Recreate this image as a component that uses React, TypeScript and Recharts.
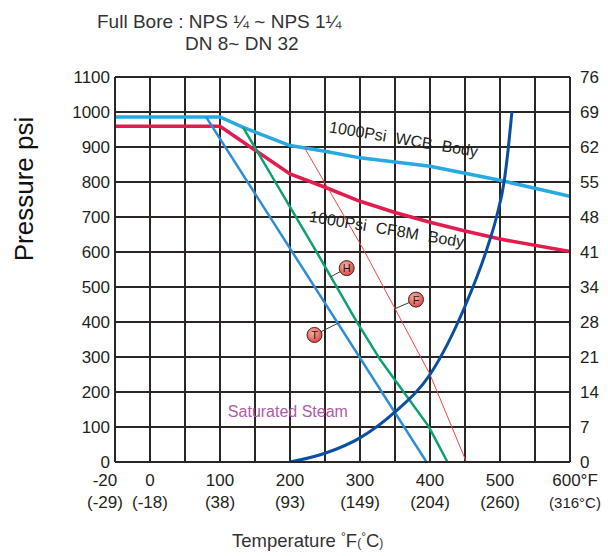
import React from "react";
import { CartesianGrid, Line, LineChart, ReferenceDot, ReferenceLine, XAxis, YAxis } from "recharts";

// temperatures in °F, pressures in psi
const wcbTemps = [-20, 100, 133, 200, 250, 300, 350, 400, 450, 500, 600];
const wcbPsi = [986, 986, 956, 904, 888, 869, 857, 845, 825, 805, 759];

const cf8mTemps = [-20, 100, 200, 250, 300, 350, 400, 450, 500, 600];
const cf8mPsi = [959, 959, 823, 785, 745, 713, 685, 660, 637, 601];

const tTemps = [80, 395];
const tPsi = [986, 0];

const hTemps = [133, 236, 295, 329, 398, 425];
const hPsi = [956, 607, 402, 292, 102, 0];

const fTemps = [221, 305, 350, 400, 452];
const fPsi = [897, 607, 438, 250, 0];

const steamTemps = [200, 250, 300, 350, 400, 450, 481, 495, 506, 512, 517];
const steamPsi = [0, 25, 69, 143, 250, 445, 607, 700, 802, 900, 1000];

// axis ticks
const gridTemps = [-20, 0, 50, 100, 150, 200, 250, 300, 350, 400, 450, 500, 550, 600];
const tempTicks = [-20, 0, 100, 200, 300, 400, 500, 600];
const fLabels = ["-20", "0", "100", "200", "300", "400", "500", "600°F"];
const cLabels = ["(-29)", "(-18)", "(38)", "(93)", "(149)", "(204)", "(260)", "(316°C)"];
const psiTicks = [0, 100, 200, 300, 400, 500, 600, 700, 800, 900, 1000, 1100];
const barLabels = ["0", "7", "14", "21", "28", "34", "41", "48", "55", "62", "69", "76"];

// the letter badges: letter, badge position, point on the line it points to
const badgeLetters = ["H", "T", "F"];
const badgeTemps = [281, 235, 380];
const badgePsi = [554, 363, 464];
const leaderTemps = [258, 269, 350];
const leaderPsi = [529, 397, 438];

const FONT = "'Liberation Sans', Arial, Helvetica, sans-serif";
const INK = "#231f20";

// the -20..0 span is drawn as wide as a 50° span
const pos = (t: number) => (t < 0 ? t * 2.5 : t);

const toData = (temps: number[], psi: number[]) => temps.map((t, i) => ({ x: pos(t), p: psi[i] }));

const wcbData = toData(wcbTemps, wcbPsi);
const cf8mData = toData(cf8mTemps, cf8mPsi);
const tData = toData(tTemps, tPsi);
const hData = toData(hTemps, hPsi);
const fData = toData(fTemps, fPsi);
const steamData = toData(steamTemps, steamPsi);

function TempTick(props: any) {
  const { x, y, payload } = props;
  const i = tempTicks.findIndex((t) => pos(t) === payload.value);
  if (i < 0) return null;
  let dx = 0;
  if (i === 0) dx = -10;
  if (i === tempTicks.length - 1) dx = 5;
  return (
    <g fontFamily={FONT} fill={INK}>
      <text x={x + dx} y={y + 24} textAnchor="middle" fontSize={17}>
        {fLabels[i]}
      </text>
      <text x={x + dx} y={y + 46} textAnchor="middle" fontSize={i === tempTicks.length - 1 ? 15 : 17}>
        {cLabels[i]}
      </text>
    </g>
  );
}

function Badge(props: any) {
  const { cx, cy, letter } = props;
  const id = "badge" + letter;
  return (
    <g>
      <defs>
        <radialGradient id={id} cx="40%" cy="35%" r="70%">
          <stop offset="0%" stopColor="#f7b4a6" />
          <stop offset="100%" stopColor="#de3f3a" />
        </radialGradient>
      </defs>
      <circle cx={cx} cy={cy} r={7.5} fill={`url(#${id})`} stroke="#3b2b2b" strokeWidth={1} />
      <text x={cx} y={cy + 4} textAnchor="middle" fontSize={11} fontFamily={FONT} fill="#1a1a1a">
        {letter}
      </text>
    </g>
  );
}

function SlantLabel(props: any) {
  const { cx, cy, text, angle } = props;
  return (
    <text
      x={cx}
      y={cy}
      textAnchor="middle"
      fontSize={16}
      fontFamily={FONT}
      fill={INK}
      wordSpacing={5}
      transform={`rotate(${angle} ${cx} ${cy})`}
    >
      {text}
    </text>
  );
}

export default function App() {
  return (
    <div style={{ position: "absolute", left: 0, top: 0, width: 608, height: 556, background: "#fff" }}>
      <LineChart width={608} height={556} margin={{ top: 77, right: 0, left: 55, bottom: 0 }}>
        <CartesianGrid stroke="#2b2523" strokeWidth={2} />
        <XAxis
          type="number"
          dataKey="x"
          domain={[pos(-20), 600]}
          ticks={gridTemps.map(pos)}
          tick={<TempTick />}
          tickLine={false}
          tickSize={0}
          tickMargin={0}
          height={94}
          axisLine={{ stroke: "#2b2523", strokeWidth: 2 }}
          allowDataOverflow
        />
        <YAxis
          domain={[0, 1100]}
          ticks={psiTicks}
          width={60}
          tickLine={false}
          tickSize={5}
          tickMargin={0}
          axisLine={{ stroke: "#2b2523", strokeWidth: 2 }}
          tick={{ fontSize: 17, fill: INK, fontFamily: FONT }}
          allowDataOverflow
        />
        <YAxis
          yAxisId="bar"
          orientation="right"
          domain={[0, 1100]}
          ticks={psiTicks}
          width={38}
          tickLine={false}
          tickSize={10}
          tickMargin={0}
          axisLine={{ stroke: "#2b2523", strokeWidth: 2 }}
          tick={{ fontSize: 17, fill: INK, fontFamily: FONT, textAnchor: "start" }}
          tickFormatter={(v: number) => barLabels[psiTicks.indexOf(v)]}
          allowDataOverflow
        />

        <Line data={wcbData} dataKey="p" type="linear" stroke="#27a9e1" strokeWidth={3.5} dot={false} isAnimationActive={false} />
        <Line data={cf8mData} dataKey="p" type="linear" stroke="#e31b4f" strokeWidth={3.5} dot={false} isAnimationActive={false} />
        <Line data={tData} dataKey="p" type="linear" stroke="#2d8dd6" strokeWidth={2.5} dot={false} isAnimationActive={false} />
        <Line data={hData} dataKey="p" type="linear" stroke="#0e9f72" strokeWidth={2.5} dot={false} isAnimationActive={false} />
        <Line data={fData} dataKey="p" type="linear" stroke="#f04848" strokeWidth={1} dot={false} isAnimationActive={false} />
        <Line data={steamData} dataKey="p" type="monotone" stroke="#0b4fa2" strokeWidth={3} dot={false} isAnimationActive={false} />

        {badgeLetters.map((l, i) => (
          <ReferenceLine
            key={"lead" + l}
            segment={[
              { x: pos(badgeTemps[i]), y: badgePsi[i] },
              { x: pos(leaderTemps[i]), y: leaderPsi[i] },
            ]}
            stroke="#3b3b3b"
            strokeWidth={1}
          />
        ))}
        {badgeLetters.map((l, i) => (
          <ReferenceDot
            key={"badge" + l}
            x={pos(badgeTemps[i])}
            y={badgePsi[i]}
            r={7}
            shape={(p: any) => <Badge cx={p.cx} cy={p.cy} letter={l} />}
          />
        ))}

        <ReferenceDot x={361} y={907} r={0} shape={(p: any) => <SlantLabel cx={p.cx} cy={p.cy} text="1000Psi WCB Body" angle={9.5} />} />
        <ReferenceDot x={337} y={650} r={0} shape={(p: any) => <SlantLabel cx={p.cx} cy={p.cy} text="1000Psi CF8M Body" angle={9.5} />} />
        <ReferenceDot
          x={197}
          y={128}
          r={0}
          shape={(p: any) => (
            <text x={p.cx} y={p.cy} textAnchor="middle" fontSize={16} fontFamily={FONT} fill="#b05aa8">
              Saturated Steam
            </text>
          )}
        />
      </LineChart>

      <svg width={608} height={556} style={{ position: "absolute", left: 0, top: 0, pointerEvents: "none" }} fontFamily={FONT} fill="#333">
        <text x={97} y={28} fontSize={19}>Full Bore : NPS ¼ ~ NPS 1¼</text>
        <text x={185} y={50} fontSize={19}>DN 8~ DN 32</text>
        <text x={33} y={189} fontSize={26} fill="#111" textAnchor="middle" transform="rotate(-90 33 189)">
          Pressure psi
        </text>
        <text x={232} y={547} fontSize={18.5}>
          Temperature <tspan fontSize={12} dy={-6}>°</tspan>
          <tspan dy={6}>F</tspan>
          <tspan fontSize={12}>(</tspan>
          <tspan fontSize={12} dy={-6}>°</tspan>
          <tspan dy={6}>C</tspan>
          <tspan fontSize={12}>)</tspan>
        </text>
      </svg>
    </div>
  );
}
